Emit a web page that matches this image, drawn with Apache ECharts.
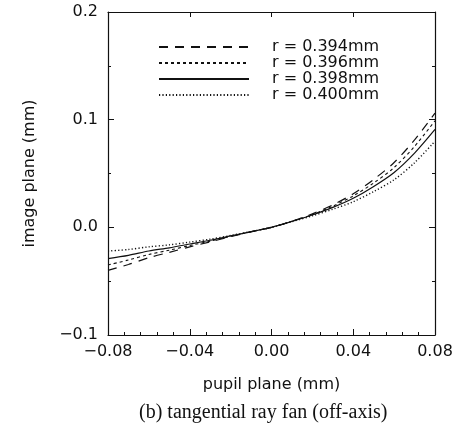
<!DOCTYPE html>
<html>
<head>
<meta charset="utf-8">
<script src="https://cdn.jsdelivr.net/npm/echarts@6/dist/echarts.min.js"></script>
<style>html,body{margin:0;padding:0;background:#fff}#c{width:471px;height:439px}</style>
</head>
<body>
<div id="c"></div>
<script>
var pupilX = [-0.08, -0.07, -0.06, -0.05, -0.04, -0.03, -0.02, -0.01, 0, 0.01, 0.02, 0.03, 0.04, 0.05, 0.06, 0.07, 0.08];
var seriesNames = ['r = 0.394mm', 'r = 0.396mm', 'r = 0.398mm', 'r = 0.400mm'];
var r394 = [-0.040, -0.0345, -0.0282, -0.0232, -0.0182, -0.0135, -0.0087, -0.0042, 0, 0.0057, 0.0125, 0.0208, 0.0312, 0.0445, 0.0602, 0.0812, 0.106];
var r396 = [-0.035, -0.0303, -0.0252, -0.0212, -0.0169, -0.0128, -0.0083, -0.0041, 0, 0.0056, 0.0119, 0.0197, 0.0292, 0.0412, 0.0556, 0.0752, 0.099];
var r398 = [-0.029, -0.026, -0.022, -0.019, -0.0155, -0.012, -0.008, -0.004, 0, 0.0055, 0.0115, 0.0185, 0.027, 0.038, 0.051, 0.069, 0.091];
var r400 = [-0.022, -0.0206, -0.0181, -0.0163, -0.0137, -0.011, -0.0076, -0.0039, 0, 0.0053, 0.0107, 0.0168, 0.0238, 0.0332, 0.0442, 0.0600, 0.080];
var xTicks = [-0.08, -0.04, 0.00, 0.04, 0.08];
var yTicks = [-0.1, 0.0, 0.1, 0.2];

function pairs(ys) { return pupilX.map(function (x, i) { return [x, ys[i]]; }); }
function minus(s) { return s.replace('-', '\u2212'); }

var FONT = 'DejaVu Sans';
var ink = '#111';
var styles = [
  { type: [9, 7], width: 1.2 },
  { type: [3, 3], width: 1.1 },
  { type: 'solid', width: 1.2 },
  { type: [1.2, 2.2], width: 1.4 }
];
var allData = [r394, r396, r398, r400];

var chart = echarts.init(document.getElementById('c'), null, { renderer: 'canvas' });
chart.setOption({
  animation: false,
  backgroundColor: '#fff',
  title: {
    text: '(b) tangential ray fan (off-axis)',
    left: 134, top: 398,
    textStyle: { fontFamily: 'Liberation Serif', fontSize: 20, fontWeight: 'normal', color: ink }
  },
  grid: { left: 108, right: 36, top: 12, bottom: 104 },
  legend: {
    orient: 'vertical', left: 153, top: 34,
    itemWidth: 90, itemHeight: 10, itemGap: 0,
    data: seriesNames,
    itemStyle: { opacity: 0 },
    textStyle: { fontFamily: FONT, fontSize: 16, color: ink, padding: [0, 0, 0, 18], lineHeight: 16 },
    inactiveColor: ink
  },
  xAxis: [{
    type: 'value', min: -0.08, max: 0.08, interval: 0.04,
    name: 'pupil plane (mm)', nameLocation: 'middle', nameGap: 42,
    nameTextStyle: { fontFamily: FONT, fontSize: 16, color: ink },
    axisLine: { show: true, onZero: false, lineStyle: { color: ink, width: 1.2 } },
    axisTick: { show: true, inside: true, length: 6, lineStyle: { color: ink } },
    minorTick: { show: true, splitNumber: 5, length: 3, lineStyle: { color: ink } },
    splitLine: { show: false },
    axisLabel: { margin: 9, fontFamily: FONT, fontSize: 16, color: ink,
      formatter: function (v) { return minus(v.toFixed(2)); } }
  }, {
    type: 'value', position: 'top', min: -0.08, max: 0.08, interval: 0.04,
    axisLine: { show: true, onZero: false, lineStyle: { color: ink, width: 1.2 } },
    axisTick: { show: true, inside: true, length: 5, lineStyle: { color: ink } },
    axisLabel: { show: false }, splitLine: { show: false }
  }],
  yAxis: [{
    type: 'value', min: -0.1, max: 0.2, interval: 0.1,
    name: 'image plane (mm)', nameLocation: 'middle', nameGap: 70,
    nameTextStyle: { fontFamily: FONT, fontSize: 16, color: ink },
    axisLine: { show: true, onZero: false, lineStyle: { color: ink, width: 1.2 } },
    axisTick: { show: true, inside: true, length: 6, lineStyle: { color: ink } },
    minorTick: { show: true, splitNumber: 2, length: 3, lineStyle: { color: ink } },
    splitLine: { show: false },
    axisLabel: { margin: 10, fontFamily: FONT, fontSize: 16, color: ink,
      formatter: function (v) { return minus(v.toFixed(1)); } }
  }, {
    type: 'value', position: 'right', min: -0.1, max: 0.2, interval: 0.1,
    axisLine: { show: true, onZero: false, lineStyle: { color: ink, width: 1.2 } },
    axisTick: { show: true, inside: true, length: 6, lineStyle: { color: ink } },
    minorTick: { show: true, splitNumber: 2, length: 3, lineStyle: { color: ink } },
    axisLabel: { show: false }, splitLine: { show: false }
  }],
  series: seriesNames.map(function (n, i) {
    return {
      name: n, type: 'line', symbol: 'none', smooth: 0.3,
      xAxisIndex: 0, yAxisIndex: 0,
      data: pairs(allData[i]),
      lineStyle: { color: ink, type: styles[i].type, width: styles[i].width },
      itemStyle: { color: ink }
    };
  })
});
</script>
</body>
</html>
